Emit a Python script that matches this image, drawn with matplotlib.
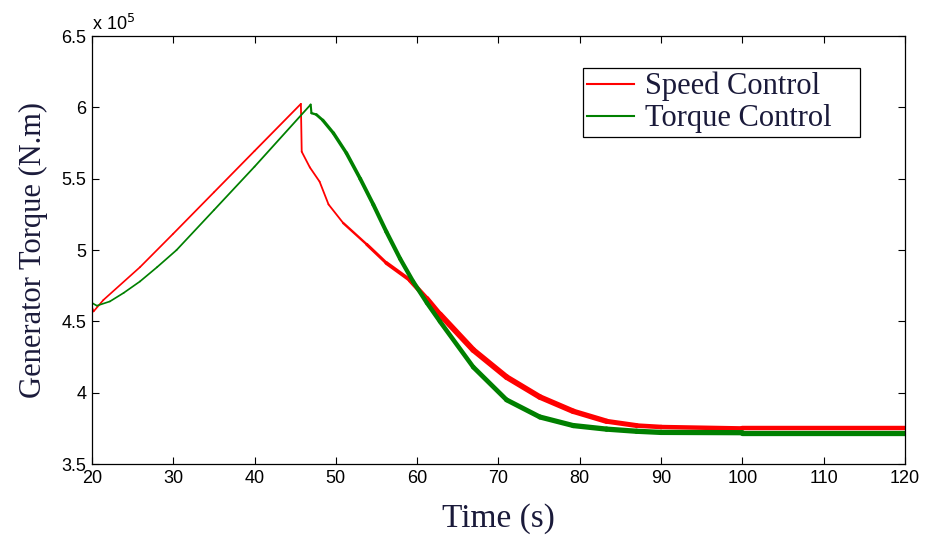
""" Generator torque: speed control vs torque control.
"""
import matplotlib
matplotlib.use("Agg")
import matplotlib.pyplot as plt
import numpy as np
from matplotlib.collections import LineCollection
from matplotlib.lines import Line2D

# values in units of 1e5 N.m
speed_t = [20, 20.2, 21.4, 25.9, 30, 35, 40, 45.7, 45.8, 46.8, 48.0, 49.1,
           50.9, 53.8, 56.2, 59.1, 61.2, 62.8, 66.9, 71.0, 75.1, 79.2, 83.3,
           87.0, 90, 100, 120]
speed_v = [4.6, 4.57, 4.65, 4.88, 5.115, 5.405, 5.695, 6.025, 5.69, 5.58,
           5.48, 5.32, 5.19, 5.04, 4.91, 4.79, 4.66, 4.55, 4.30, 4.11, 3.97,
           3.87, 3.80, 3.77, 3.76, 3.75, 3.75]

torque_t = [20, 20.6, 22.2, 23.9, 25.9, 28.0, 30.4, 35, 40, 46.9, 47.0, 47.6,
            48.4, 49.7, 51.3, 53.0, 54.6, 56.2, 57.9, 59.5, 61.2, 62.8, 66.9,
            71.0, 75.1, 79.2, 83.3, 87.0, 90, 100, 120]
torque_v = [4.63, 4.61, 4.64, 4.70, 4.78, 4.88, 5.00, 5.28, 5.585, 6.02,
            5.96, 5.95, 5.91, 5.82, 5.68, 5.50, 5.32, 5.13, 4.94, 4.78, 4.63,
            4.50, 4.18, 3.95, 3.83, 3.77, 3.745, 3.73, 3.722, 3.72, 3.72]

x_ticks = [20, 30, 40, 50, 60, 70, 80, 90, 100, 110, 120]
y_ticks = [3.5, 4, 4.5, 5, 5.5, 6, 6.5]
y_tick_labels = ["3.5", "4", "4.5", "5", "5.5", "6", "6.5"]

RED = "#ff0000"
GREEN = "#008000"
LABEL_COLOR = "#1a1a3a"
SERIF = ["Liberation Serif", "DejaVu Serif"]
SANS = ["Liberation Sans", "DejaVu Sans"]


def draw_series(ax, t, v, color, width_t, width_lw):
    """ Draw a line whose width grows where the signal gets noisy. """
    pts = np.column_stack([t, v])
    segs = np.stack([pts[:-1], pts[1:]], axis=1)
    mids = (np.asarray(t[:-1]) + np.asarray(t[1:])) / 2
    lws = np.interp(mids, width_t, width_lw)
    lc = LineCollection(segs, colors=color, linewidths=lws,
                        capstyle="round", joinstyle="round")
    ax.add_collection(lc)


fig = plt.figure(figsize=(9.27, 5.39), dpi=100)
ax = fig.add_axes([0.0992, 0.139, 0.877, 0.794])

draw_series(ax, speed_t, speed_v, RED,
            [20, 50, 57, 64, 80, 90, 120], [1.2, 1.3, 2.6, 4.2, 4.0, 3.2, 3.2])
draw_series(ax, torque_t, torque_v, GREEN,
            [20, 46.5, 48.5, 56, 66, 80, 120], [1.2, 1.3, 2.3, 3.0, 3.3, 3.8, 3.8])

ax.set_xlim(20, 120)
ax.set_ylim(3.5, 6.5)
ax.set_xticks(x_ticks)
ax.set_yticks(y_ticks)
ax.set_yticklabels(y_tick_labels)
ax.tick_params(direction="in", top=True, right=True, length=5,
               labelsize=13, pad=4)
for lab in ax.get_xticklabels() + ax.get_yticklabels():
    lab.set_family(SANS)
for sp in ax.spines.values():
    sp.set_linewidth(0.9)

ax.text(0.0, 1.005, r"x 10$^5$", transform=ax.transAxes, fontsize=13,
        family=SANS, ha="left", va="bottom")

ax.set_xlabel("Time (s)", fontsize=24, family=SERIF, color=LABEL_COLOR,
              labelpad=12)
ax.set_ylabel("Generator Torque (N.m)", fontsize=22, family=SERIF,
              color=LABEL_COLOR, labelpad=10)

handles = [Line2D([], [], color=RED, lw=1.5, label="Speed Control"),
           Line2D([], [], color=GREEN, lw=1.5, label="Torque Control")]
leg = ax.legend(handles=handles, loc="upper left", mode="expand",
                bbox_to_anchor=(0.604, 0.765, 0.3407, 0.16),
                prop={"family": SERIF, "size": 22}, fancybox=False,
                framealpha=1, edgecolor="black", handlelength=1.55,
                handletextpad=0.35, labelspacing=0.1, borderpad=0.12,
                borderaxespad=0)
leg.get_frame().set_linewidth(0.9)
for txt in leg.get_texts():
    txt.set_color(LABEL_COLOR)

fig.savefig("out.png", dpi=100)
